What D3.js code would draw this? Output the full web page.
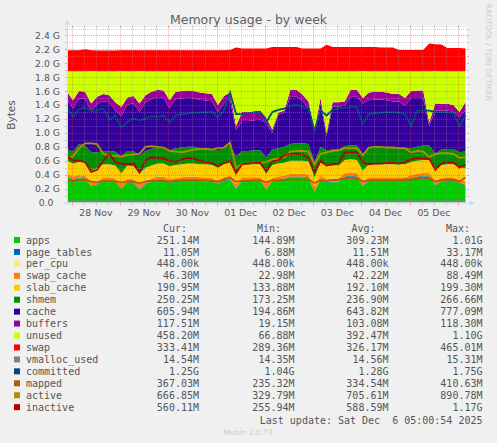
<!DOCTYPE html>
<html>
<head>
<meta charset="utf-8">
<script src="https://cdn.jsdelivr.net/npm/d3@7"></script>
<style>
body { margin: 0; background: #f0f0f0; }
svg text { white-space: pre; }
</style>
</head>
<body>
<svg id="chart" width="497" height="443"></svg>
<script>
'use strict';

// values in GiB, one sample every 3 hours from Nov 27 21:40 UTC
var apps = [
    0.367,0.327,0.347,0.337,0.229,0.252,0.312,0.312,0.292,0.189,
    0.292,0.282,0.179,0.262,0.292,0.322,0.322,0.282,0.302,0.312,
    0.317,0.317,0.307,0.307,0.297,0.257,0.307,0.327,0.190,0.312,
    0.312,0.312,0.312,0.179,0.302,0.322,0.332,0.362,0.362,0.362,
    0.352,0.142,0.332,0.282,0.292,0.292,0.362,0.372,0.362,0.229,
    0.312,0.312,0.312,0.312,0.312,0.312,0.312,0.342,0.362,0.372,
    0.372,0.239,0.302,0.312,0.312,0.272,0.245];
var page_tables = [
    0.011,0.011,0.011,0.011,0.012,0.011,0.011,0.011,0.011,0.012,
    0.011,0.011,0.012,0.011,0.011,0.011,0.011,0.011,0.011,0.011,
    0.011,0.011,0.011,0.011,0.011,0.011,0.011,0.011,0.020,0.012,
    0.011,0.011,0.011,0.012,0.011,0.011,0.011,0.011,0.011,0.011,
    0.011,0.013,0.011,0.011,0.011,0.011,0.011,0.011,0.011,0.012,
    0.011,0.011,0.011,0.011,0.011,0.011,0.011,0.011,0.011,0.011,
    0.011,0.012,0.011,0.011,0.011,0.011,0.0108];
var per_cpu = [
    0.00043,0.00043,0.00043,0.00043,0.00043,0.00043,0.00043,0.00043,0.00043,0.00043,
    0.00043,0.00043,0.00043,0.00043,0.00043,0.00043,0.00043,0.00043,0.00043,0.00043,
    0.00043,0.00043,0.00043,0.00043,0.00043,0.00043,0.00043,0.00043,0.00043,0.00043,
    0.00043,0.00043,0.00043,0.00043,0.00043,0.00043,0.00043,0.00043,0.00043,0.00043,
    0.00043,0.00043,0.00043,0.00043,0.00043,0.00043,0.00043,0.00043,0.00043,0.00043,
    0.00043,0.00043,0.00043,0.00043,0.00043,0.00043,0.00043,0.00043,0.00043,0.00043,
    0.00043,0.00043,0.00043,0.00043,0.00043,0.00043,0.00043];
var swap_cache = [
    0.035,0.035,0.035,0.035,0.060,0.040,0.040,0.040,0.040,0.070,
    0.040,0.040,0.070,0.040,0.040,0.040,0.040,0.040,0.040,0.040,
    0.045,0.045,0.045,0.045,0.045,0.045,0.045,0.045,0.060,0.040,
    0.040,0.040,0.040,0.070,0.040,0.040,0.040,0.040,0.040,0.040,
    0.040,0.073,0.040,0.040,0.040,0.040,0.050,0.050,0.050,0.060,
    0.040,0.040,0.040,0.040,0.040,0.040,0.040,0.040,0.040,0.040,
    0.040,0.060,0.040,0.040,0.040,0.040,0.045];
var slab_cache = [
    0.187,0.187,0.187,0.187,0.160,0.187,0.187,0.187,0.187,0.150,
    0.187,0.187,0.150,0.187,0.187,0.187,0.187,0.187,0.187,0.187,
    0.187,0.187,0.187,0.187,0.187,0.187,0.187,0.187,0.150,0.187,
    0.187,0.187,0.187,0.150,0.187,0.187,0.187,0.187,0.187,0.187,
    0.187,0.134,0.187,0.187,0.187,0.187,0.187,0.187,0.187,0.160,
    0.187,0.187,0.187,0.187,0.187,0.187,0.187,0.187,0.187,0.187,
    0.187,0.160,0.187,0.187,0.187,0.187,0.1865];
var shmem = [
    0.17,0.17,0.26,0.24,0.26,0.23,0.19,0.19,0.20,0.24,
    0.21,0.22,0.25,0.24,0.24,0.23,0.23,0.23,0.24,0.24,
    0.24,0.24,0.23,0.23,0.23,0.24,0.24,0.25,0.24,0.19,
    0.19,0.20,0.20,0.23,0.22,0.22,0.23,0.24,0.25,0.25,
    0.25,0.22,0.23,0.23,0.23,0.23,0.20,0.20,0.21,0.24,
    0.23,0.24,0.24,0.24,0.23,0.23,0.23,0.20,0.20,0.21,
    0.21,0.23,0.22,0.22,0.22,0.21,0.244];
var cache = [
    0.710,0.620,0.655,0.675,0.580,0.695,0.715,0.695,0.590,0.580,
    0.665,0.685,0.640,0.695,0.715,0.725,0.715,0.600,0.705,0.705,
    0.705,0.695,0.695,0.685,0.685,0.555,0.635,0.655,0.380,0.430,
    0.430,0.430,0.440,0.500,0.240,0.480,0.490,0.680,0.670,0.610,
    0.510,0.430,0.610,0.200,0.620,0.620,0.580,0.700,0.700,0.720,
    0.690,0.690,0.690,0.680,0.670,0.670,0.610,0.720,0.700,0.680,
    0.280,0.620,0.560,0.550,0.530,0.500,0.592];
var buffers = [
    0.110,0.120,0.105,0.105,0.120,0.105,0.105,0.105,0.120,0.130,
    0.105,0.105,0.120,0.105,0.105,0.105,0.105,0.120,0.105,0.105,
    0.105,0.105,0.105,0.105,0.105,0.105,0.105,0.105,0.060,0.130,
    0.130,0.130,0.130,0.080,0.050,0.030,0.030,0.100,0.100,0.090,
    0.100,0.040,0.090,0.050,0.060,0.060,0.060,0.100,0.100,0.080,
    0.110,0.110,0.110,0.110,0.110,0.110,0.110,0.100,0.110,0.110,
    0.050,0.100,0.100,0.100,0.100,0.080,0.115];
var unused = [
    0.297,0.417,0.287,0.297,0.467,0.367,0.327,0.347,0.447,0.517,
    0.377,0.357,0.467,0.347,0.297,0.267,0.277,0.417,0.297,0.287,
    0.277,0.287,0.307,0.317,0.327,0.487,0.357,0.307,0.787,0.587,
    0.587,0.577,0.567,0.667,0.837,0.597,0.567,0.267,0.267,0.337,
    0.437,0.837,0.387,0.887,0.447,0.447,0.437,0.267,0.267,0.387,
    0.307,0.297,0.297,0.307,0.327,0.327,0.387,0.287,0.277,0.277,
    0.737,0.467,0.467,0.467,0.487,0.587,0.448];
var swap = [
    0.299,0.299,0.299,0.314,0.299,0.296,0.296,0.296,0.296,0.299,
    0.299,0.299,0.299,0.299,0.299,0.299,0.299,0.299,0.299,0.299,
    0.299,0.299,0.299,0.299,0.299,0.299,0.299,0.304,0.339,0.324,
    0.324,0.324,0.324,0.324,0.346,0.346,0.346,0.346,0.346,0.324,
    0.324,0.324,0.324,0.379,0.346,0.346,0.346,0.346,0.346,0.346,
    0.346,0.346,0.339,0.339,0.339,0.304,0.304,0.304,0.304,0.304,
    0.399,0.384,0.384,0.334,0.334,0.334,0.326];
var vmalloc_used = [
    0.0142,0.0142,0.0141,0.0142,0.0142,0.0143,0.0142,0.0142,0.0141,0.0142,
    0.0142,0.0142,0.0142,0.0143,0.0142,0.0142,0.0142,0.0141,0.0142,0.0142,
    0.0142,0.0143,0.0142,0.0142,0.0142,0.0142,0.0142,0.0143,0.0149,0.0142,
    0.0142,0.0142,0.0141,0.0142,0.0142,0.0142,0.0142,0.0143,0.0142,0.0142,
    0.0142,0.0142,0.0142,0.0142,0.0142,0.0141,0.0142,0.0142,0.0142,0.0143,
    0.0142,0.0142,0.0142,0.0142,0.0142,0.0142,0.0142,0.0142,0.0141,0.0142,
    0.0142,0.0142,0.0142,0.0142,0.0142,0.0142,0.0142];
var committed = [
    1.37,1.23,1.34,1.37,1.31,1.32,1.35,1.19,1.25,1.08,
    1.16,1.21,1.18,1.20,1.24,1.23,1.25,1.15,1.25,1.27,
    1.28,1.29,1.29,1.30,1.31,1.22,1.33,1.58,1.27,1.27,
    1.28,1.29,1.30,1.15,1.30,1.33,1.35,1.39,1.41,1.37,
    1.35,1.03,1.32,1.25,1.33,1.35,1.36,1.37,1.37,1.13,
    1.27,1.28,1.29,1.30,1.30,1.29,1.27,1.10,1.32,1.32,
    1.32,1.30,1.30,1.30,1.29,1.10,1.25];
var mapped = [
    0.32,0.31,0.32,0.33,0.30,0.29,0.31,0.31,0.30,0.29,
    0.30,0.30,0.28,0.30,0.31,0.31,0.31,0.30,0.31,0.32,
    0.32,0.32,0.32,0.32,0.31,0.30,0.33,0.36,0.30,0.31,
    0.31,0.32,0.32,0.29,0.32,0.32,0.33,0.33,0.33,0.33,
    0.33,0.28,0.32,0.31,0.32,0.33,0.35,0.35,0.35,0.30,
    0.32,0.32,0.32,0.32,0.32,0.32,0.33,0.33,0.35,0.35,
    0.35,0.30,0.32,0.33,0.33,0.30,0.358];
var active = [
    0.64,0.66,0.78,0.85,0.85,0.84,0.70,0.67,0.67,0.66,
    0.68,0.69,0.70,0.80,0.81,0.80,0.79,0.74,0.73,0.72,
    0.74,0.76,0.77,0.77,0.76,0.78,0.79,0.86,0.50,0.55,
    0.56,0.57,0.57,0.58,0.62,0.63,0.65,0.73,0.74,0.74,
    0.73,0.55,0.70,0.72,0.74,0.75,0.78,0.78,0.78,0.68,
    0.79,0.80,0.80,0.79,0.79,0.78,0.78,0.72,0.74,0.73,
    0.65,0.70,0.71,0.71,0.70,0.64,0.651];
var inactive = [
    0.67,0.60,0.60,0.58,0.44,0.47,0.60,0.70,0.58,0.56,
    0.55,0.56,0.43,0.60,0.65,0.64,0.63,0.60,0.58,0.62,
    0.64,0.63,0.60,0.58,0.57,0.52,0.57,0.60,0.42,0.55,
    0.56,0.57,0.57,0.45,0.59,0.61,0.68,0.70,0.70,0.69,
    0.64,0.44,0.60,0.53,0.55,0.56,0.72,0.72,0.72,0.58,
    0.55,0.56,0.56,0.57,0.57,0.56,0.58,0.62,0.64,0.63,
    0.63,0.47,0.56,0.58,0.58,0.50,0.547];

var names = ['apps','page_tables','per_cpu','swap_cache','slab_cache','shmem','cache','buffers',
    'unused','swap','vmalloc_used','committed','mapped','active','inactive'];
var colors = ['#00CC00','#0066B3','#FFE680','#FF8000','#FFCC00','#008F00','#330099','#990099',
    '#CCFF00','#FF0000','#808080','#00487D','#B35A00','#B38F00','#B30000'];
var curVals = ['251.14M','11.05M','448.00k','46.30M','190.95M','250.25M','605.94M','117.51M',
    '458.20M','333.41M','14.54M','1.25G','367.03M','666.85M','560.11M'];
var minVals = ['144.89M','6.88M','448.00k','22.98M','133.88M','173.25M','194.86M','19.15M',
    '66.88M','289.36M','14.35M','1.04G','235.32M','329.79M','255.94M'];
var avgVals = ['309.23M','11.51M','448.00k','42.22M','192.10M','236.90M','643.82M','103.08M',
    '392.47M','326.17M','14.56M','1.28G','334.54M','705.61M','588.59M'];
var maxVals = ['1.01G','33.17M','448.00k','88.49M','199.30M','266.66M','777.09M','118.30M',
    '1.10G','465.01M','15.31M','1.75G','410.63M','890.78M','1.17G'];

var yTicks = [0, 0.2, 0.4, 0.6, 0.8, 1.0, 1.2, 1.4, 1.6, 1.8, 2.0, 2.2, 2.4];
var yLabels = ['0.0', '0.2 G', '0.4 G', '0.6 G', '0.8 G', '1.0 G', '1.2 G', '1.4 G',
    '1.6 G', '1.8 G', '2.0 G', '2.2 G', '2.4 G'];
var dayLabels = ['28 Nov', '29 Nov', '30 Nov', '01 Dec', '02 Dec', '03 Dec', '04 Dec', '05 Dec'];

var series = {
    apps: apps, page_tables: page_tables, per_cpu: per_cpu, swap_cache: swap_cache,
    slab_cache: slab_cache, shmem: shmem, cache: cache, buffers: buffers, unused: unused,
    swap: swap, vmalloc_used: vmalloc_used, committed: committed, mapped: mapped,
    active: active, inactive: inactive
};
var stackKeys = names.slice(0, 10);
var lineKeys = names.slice(10);

var HOUR = 3600e3;
var t0 = Date.UTC(2025, 10, 27, 21, 40);
var t1 = t0 + 198.76 * HOUR;
var pL = 67, pR = 467, pT = 27.5, pB = 202.5;

var x = d3.scaleUtc().domain([t0, t1]).range([pL, pR]);
var y = d3.scaleLinear().domain([0, 2.5146]).range([pB, pT]);

var rows = apps.map(function(v, i) {
    var r = { t: t0 + i * 3 * HOUR };
    names.forEach(function(k) { r[k] = series[k][i]; });
    return r;
});

var svg = d3.select('#chart');
var sans = 'DejaVu Sans, sans-serif';
var mono = 'DejaVu Sans Mono, monospace';
var textCol = '#555555';

svg.append('defs').append('clipPath').attr('id', 'plot')
    .append('rect').attr('x', pL).attr('y', pT).attr('width', pR - pL).attr('height', pB - pT);

svg.append('rect').attr('x', pL).attr('y', pT)
    .attr('width', pR - pL).attr('height', pB - pT).attr('fill', '#ffffff');

var g = svg.append('g').attr('clip-path', 'url(#plot)');

var stacked = d3.stack().keys(stackKeys)(rows);
var area = d3.area()
    .x(function(d) { return x(d.data.t); })
    .y0(function(d) { return y(d[0]); })
    .y1(function(d) { return y(d[1]); });

g.selectAll('path.area').data(stacked).enter().append('path')
    .attr('class', 'area')
    .attr('d', area)
    .attr('fill', function(d) { return colors[names.indexOf(d.key)]; });

lineKeys.forEach(function(k) {
    var line = d3.line()
        .x(function(d) { return x(d.t); })
        .y(function(d) { return y(d[k]); });
    g.append('path').datum(rows)
        .attr('d', line)
        .attr('fill', 'none')
        .attr('stroke', colors[names.indexOf(k)])
        .attr('stroke-width', 1.8);
});

// grid on top of the graph, like rrdtool
var minorCol = 'rgba(150,150,150,0.45)';
var majorCol = 'rgba(230,60,60,0.45)';
var grid = svg.append('g');

var yMinor = d3.range(1, 26).map(function(v) { return v / 10; });
yMinor.forEach(function(v) {
    var major = Math.round(v * 10) % 2 === 0;
    var yy = Math.round(y(v)) + 0.5;
    grid.append('line').attr('x1', pL).attr('x2', pR).attr('y1', yy).attr('y2', yy)
        .attr('stroke', major ? majorCol : minorCol).attr('stroke-dasharray', '1,1');
    grid.append('line').attr('x1', pL - 2).attr('x2', pL).attr('y1', yy).attr('y2', yy)
        .attr('stroke', major ? majorCol : minorCol);
    grid.append('line').attr('x1', pR).attr('x2', pR + 2).attr('y1', yy).attr('y2', yy)
        .attr('stroke', major ? majorCol : minorCol);
});

d3.utcHour.every(6).range(t0, t1).forEach(function(t) {
    var major = t.getUTCHours() === 0;
    var xx = Math.round(x(t)) + 0.5;
    grid.append('line').attr('x1', xx).attr('x2', xx).attr('y1', pT).attr('y2', pB)
        .attr('stroke', major ? majorCol : minorCol).attr('stroke-dasharray', '1,1');
    grid.append('line').attr('x1', xx).attr('x2', xx).attr('y1', pB).attr('y2', pB + 3)
        .attr('stroke', major ? majorCol : minorCol);
    grid.append('line').attr('x1', xx).attr('x2', xx).attr('y1', pT - 2).attr('y2', pT)
        .attr('stroke', major ? majorCol : minorCol);
});

// axes with arrows
var axisCol = '#CFD6F8';
svg.append('line').attr('x1', pL - 3).attr('x2', pR + 4).attr('y1', pB + 0.5).attr('y2', pB + 0.5)
    .attr('stroke', axisCol);
svg.append('line').attr('x1', pL + 0.5).attr('x2', pL + 0.5).attr('y1', pB + 3).attr('y2', pT - 4)
    .attr('stroke', axisCol);
svg.append('path').attr('d', d3.line()([[pR + 3, pB - 2], [pR + 8, pB + 0.5], [pR + 3, pB + 3]]))
    .attr('fill', axisCol);
svg.append('path').attr('d', d3.line()([[pL - 2, pT - 3], [pL + 0.5, pT - 8], [pL + 3, pT - 3]]))
    .attr('fill', axisCol);

// tick labels
svg.selectAll('text.ylab').data(yTicks).enter().append('text')
    .attr('class', 'ylab')
    .attr('x', function(d, i) { return i === 0 ? 53.5 : 60; })
    .attr('y', function(d) { return y(d) + 3.4; })
    .attr('text-anchor', 'end')
    .attr('font-family', sans).attr('font-size', 9.3).attr('fill', textCol)
    .text(function(d, i) { return yLabels[i]; });

svg.selectAll('text.xlab').data(dayLabels).enter().append('text')
    .attr('class', 'xlab')
    .attr('x', function(d, i) { return x(Date.UTC(2025, 10, 28 + i, 12)); })
    .attr('y', 215.5)
    .attr('text-anchor', 'middle')
    .attr('font-family', sans).attr('font-size', 9.4).attr('fill', textCol)
    .text(function(d) { return d; });

svg.append('text').attr('x', 248.5).attr('y', 24)
    .attr('text-anchor', 'middle').attr('font-family', sans).attr('font-size', 12.5)
    .attr('fill', '#606060').text('Memory usage - by week');

svg.append('text').attr('transform', 'translate(14.5,115) rotate(-90)')
    .attr('text-anchor', 'middle').attr('font-family', sans).attr('font-size', 10.5)
    .attr('fill', textCol).text('Bytes');

svg.append('text').attr('transform', 'translate(485.5,4) rotate(90)')
    .attr('font-family', sans).attr('font-size', 7.5).attr('fill', '#cccccc')
    .text('RRDTOOL / TOBI OETIKER');

// legend
var rowY = function(i) { return 240 + i * 11.94; };
var heads = [['Cur:', 187], ['Min:', 281], ['Avg:', 375.5], ['Max:', 470]];
heads.forEach(function(h) {
    svg.append('text').attr('x', h[1]).attr('y', 232).attr('text-anchor', 'end')
        .attr('font-family', mono).attr('font-size', 10).attr('fill', textCol).text(h[0]);
});

var cols = [[curVals, 199], [minVals, 294.5], [avgVals, 388.5], [maxVals, 482.5]];
names.forEach(function(n, i) {
    var cy = rowY(i);
    svg.append('rect').attr('x', 14).attr('y', cy - 3).attr('width', 6).attr('height', 6)
        .attr('fill', colors[i]);
    svg.append('text').attr('x', 26).attr('y', cy + 3.6)
        .attr('font-family', mono).attr('font-size', 10).attr('fill', textCol).text(n);
    cols.forEach(function(c) {
        svg.append('text').attr('x', c[1]).attr('y', cy + 3.6).attr('text-anchor', 'end')
            .attr('font-family', mono).attr('font-size', 10).attr('fill', textCol).text(c[0][i]);
    });
});

svg.append('text').attr('x', 482.5).attr('y', 423.6).attr('text-anchor', 'end')
    .attr('font-family', mono).attr('font-size', 10).attr('fill', textCol)
    .text('Last update: Sat Dec  6 05:00:54 2025');

svg.append('text').attr('x', 248).attr('y', 434.5).attr('text-anchor', 'middle')
    .attr('font-family', sans).attr('font-size', 7.5).attr('fill', '#cccccc')
    .text('Munin 2.0.73');
</script>
</body>
</html>
